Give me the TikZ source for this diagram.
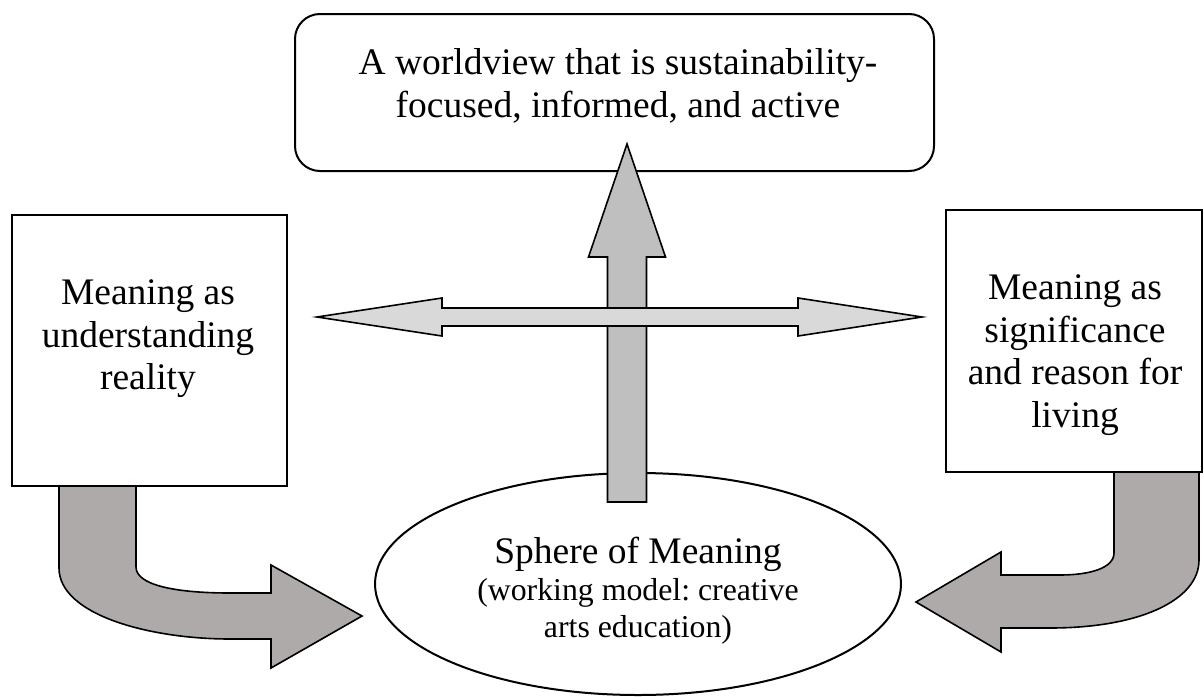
\documentclass[tikz,border=0pt]{standalone}
\usepackage{fontspec}
\setmainfont{Liberation Serif}
\usetikzlibrary{shapes.geometric}
\frenchspacing
\newcommand{\bigtxt}{\fontsize{18.75pt}{21.25pt}\selectfont}
\newcommand{\smalltxt}{\fontsize{15.9pt}{18.5pt}\selectfont}
\definecolor{bendgray}{HTML}{AEAAAA}
\definecolor{upgray}{HTML}{BFBFBF}
\definecolor{sidegray}{HTML}{D9D9D9}

\begin{document}
\begin{tikzpicture}[x=0.5pt, y=-0.5pt, line join=miter]
  \tikzstyle{blk}=[draw=black, line width=1pt, fill=white, shape=rectangle, inner sep=0pt]
  \tikzstyle{oval}=[draw=black, line width=1pt, fill=white, shape=ellipse, inner sep=0pt]
  \tikzstyle{txt}=[draw=none, fill=none, align=center, inner sep=0pt, font=\bigtxt]
  \tikzstyle{fat}=[draw=black, line width=0.8pt]
\useasboundingbox (0,0) rectangle (1204,696);
% boxes and sphere
\node[blk, rounded corners=12.5pt, minimum width=319.5pt, minimum height=78.5pt] (world) at (614.5,92.5) {};
\node[blk, minimum width=137.5pt, minimum height=135.5pt] (reality) at (149.5,350.5) {};
\node[blk, minimum width=128pt, minimum height=131pt] (living) at (1074,341) {};
\node[oval, minimum width=263pt, minimum height=111pt] (sphere) at (638,584) {};
\node[txt] (worldTxt) at (618,86) {A worldview that is sustainability-\\focused, informed, and active};
\node[txt] (realityTxt) at (148,339) {Meaning as\\understanding\\reality};
\node[txt] (livingTxt) at (1075,355) {Meaning as\\significance\\and reason for\\living};
\node[txt, font=\smalltxt] (sphereTxt) at (638,591) {{\bigtxt Sphere of Meaning}\\(working model: creative\\arts education)};
% fat arrows
\coordinate (upTail) at (627,502);
\coordinate (upTip) at (627,144);
\coordinate (leftTip) at (317,317);
\coordinate (rightTip) at (922,317);
\coordinate (lTip) at (362,616);
\coordinate (rTip) at (916,602);
\draw[fat, fill=upgray] (upTail) ++(-19.5,0) -- ++(0,-245) -- ++(-19,0) -- (upTip)
  -- ++(38.5,113) -- ++(-19,0) -- ++(0,245) -- cycle;
\draw[fat, fill=sidegray] (leftTip) -- ++(125,-19) -- ++(0,10) -- ++(356,0) -- ++(0,-10) -- (rightTip)
  -- ++(-124,19) -- ++(0,-10) -- ++(-356,0) -- ++(0,10) -- cycle;
\draw[fat, fill=bendgray] (59,486) -- (59,568) .. controls (59,615) and (150,639) .. (230,639)
  -- (271,639) -- (271,668) -- (lTip) -- (271,565) -- (271,593) -- (230,593)
  .. controls (175,593) and (136,585) .. (136,567) -- (136,486) -- cycle;
\draw[fat, fill=bendgray] (1114,472) -- (1114,553) .. controls (1114,568) and (1090,575) .. (1060,575)
  -- (1001,575) -- (1001,552) -- (rTip) -- (1001,652) -- (1001,628) -- (1050,628)
  .. controls (1140,628) and (1199,600) .. (1199,560) -- (1199,472) -- cycle;
\end{tikzpicture}
\end{document}
